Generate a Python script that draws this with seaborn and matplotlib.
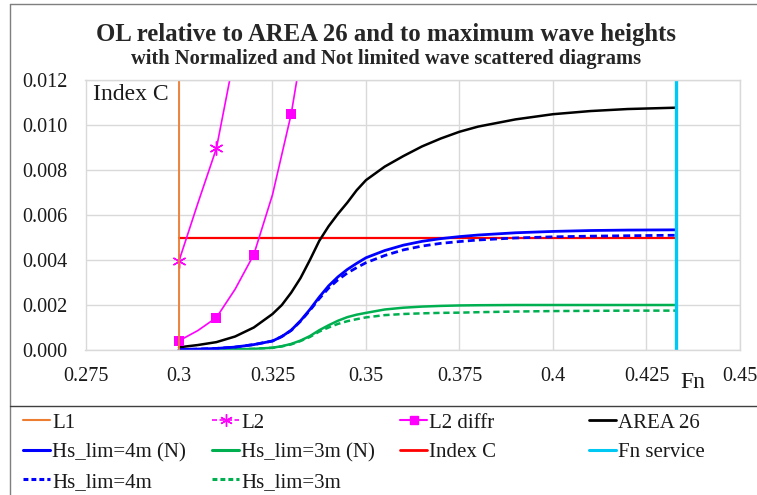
import numpy as np
import matplotlib
matplotlib.use("Agg")
import matplotlib.pyplot as plt
from matplotlib import ticker
from matplotlib.lines import Line2D
import seaborn as sns

# Fn grid used for the smooth curves
fn = [0.300, 0.305, 0.310, 0.315, 0.320, 0.325, 0.3275, 0.330, 0.3325, 0.335,
      0.3375, 0.340, 0.3425, 0.345, 0.3475, 0.350, 0.355, 0.360, 0.365, 0.370,
      0.375, 0.380, 0.390, 0.400, 0.410, 0.420, 0.433]

area26 = [0.00012, 0.00022, 0.00035, 0.00060, 0.00100, 0.00160, 0.00200, 0.00255,
          0.00320, 0.00400, 0.00485, 0.00550, 0.00605, 0.00655, 0.00710, 0.00755,
          0.00815, 0.00862, 0.00905, 0.00940, 0.00970, 0.00993, 0.01025, 0.01048,
          0.01062, 0.01071, 0.01077]
hs4_norm = [0.00002, 0.00004, 0.00007, 0.00013, 0.00024, 0.00040, 0.00060, 0.00088,
            0.00130, 0.00180, 0.00235, 0.00285, 0.00325, 0.00358, 0.00385, 0.00410,
            0.00442, 0.00466, 0.00483, 0.00495, 0.00504, 0.00511, 0.00521, 0.00527,
            0.00531, 0.00533, 0.00534]
hs4 = [0.00002, 0.00004, 0.00007, 0.00013, 0.00024, 0.00040, 0.00060, 0.00087,
       0.00128, 0.00176, 0.00228, 0.00275, 0.00312, 0.00342, 0.00366, 0.00388,
       0.00420, 0.00445, 0.00462, 0.00474, 0.00482, 0.00489, 0.00498, 0.00503,
       0.00506, 0.00508, 0.00510]
hs3_norm = [0.00001, 0.00001, 0.00002, 0.00003, 0.00005, 0.00010, 0.00017, 0.00027,
            0.00042, 0.00062, 0.00088, 0.00110, 0.00130, 0.00146, 0.00157, 0.00165,
            0.00180, 0.00188, 0.00193, 0.00196, 0.00198, 0.00199, 0.00200, 0.00200,
            0.00200, 0.00200, 0.00200]
hs3 = [0.00001, 0.00001, 0.00002, 0.00003, 0.00005, 0.00010, 0.00016, 0.00025,
       0.00040, 0.00058, 0.00082, 0.00100, 0.00116, 0.00128, 0.00137, 0.00145,
       0.00155, 0.00160, 0.00163, 0.00165, 0.00166, 0.00168, 0.00171, 0.00173,
       0.00174, 0.00175, 0.00175]

# L2 curves (markers on every 0.01 step)
fn_l2 = [0.300, 0.305, 0.310, 0.320]
l2 = [0.00396, 0.00650, 0.00896, 0.01750]
fn_l2d = [0.300, 0.305, 0.310, 0.315, 0.320, 0.325, 0.330, 0.340]
l2_diffr = [0.00041, 0.00086, 0.00144, 0.00270, 0.00424, 0.00690, 0.01049, 0.02050]

# vertical / horizontal reference lines
fn_l1 = [0.300, 0.300]
fn_service = [0.433, 0.433]
vert_y = [0.0, 0.012]
fn_index = [0.300, 0.433]
index_c = [0.005, 0.005]

x_ticks = [0.275, 0.3, 0.325, 0.35, 0.375, 0.4, 0.425, 0.45]
y_ticks = [0.000, 0.002, 0.004, 0.006, 0.008, 0.010, 0.012]

sns.set_theme(style="whitegrid")
plt.rcParams["font.family"] = ["Liberation Serif", "DejaVu Serif"]

fig = plt.figure(figsize=(7.57, 4.95), dpi=100)
ax = fig.add_axes([85.5 / 757, 1 - 350 / 495, (740 - 85.5) / 757, 270 / 495])

dash = (2.5, 1.5)
c_orange = "#ED7D31"
c_mag = "#FF00FF"
c_blue = "#0000FF"
c_green = "#00B050"
c_red = "#FF0000"
c_cyan = "#00C8F5"

raw = dict(estimator=None, sort=False, ax=ax)
sns.lineplot(x=fn_index, y=index_c, color=c_red, linewidth=1.6, **raw)
sns.lineplot(x=fn, y=area26, color="black", linewidth=1.8, **raw)
sns.lineplot(x=fn, y=hs3, color=c_green, linewidth=1.8, linestyle=(0, dash), **raw)
sns.lineplot(x=fn, y=hs3_norm, color=c_green, linewidth=1.8, **raw)
sns.lineplot(x=fn, y=hs4, color=c_blue, linewidth=2.0, linestyle=(0, dash), **raw)
sns.lineplot(x=fn, y=hs4_norm, color=c_blue, linewidth=2.0, **raw)
sns.lineplot(x=fn_l2, y=l2, color=c_mag, linewidth=1.2, marker=(6, 2, 0),
             markersize=10, markeredgewidth=1.0, markeredgecolor=c_mag,
             markevery=[0, 2], **raw)
sns.lineplot(x=fn_l2d, y=l2_diffr, color=c_mag, linewidth=1.2, marker="s",
             markersize=7, markeredgewidth=0, markevery=[0, 2, 4, 6], **raw)
sns.lineplot(x=fn_l1, y=vert_y, color=c_orange, linewidth=1.3, **raw)
sns.lineplot(x=fn_service, y=vert_y, color=c_cyan, linewidth=2.4, **raw)

ax.set_xlim(0.275, 0.45)
ax.set_ylim(0, 0.012)
ax.set_xticks(x_ticks)
ax.set_yticks(y_ticks)
ax.xaxis.set_major_formatter(ticker.FuncFormatter(lambda v, p: f"{v:g}"))
ax.yaxis.set_major_formatter(ticker.FuncFormatter(lambda v, p: f"{v:.3f}"))
ax.tick_params(axis="both", length=0, labelsize=14.5, colors="#1a1a1a")
ax.tick_params(axis="y", pad=13)
ax.tick_params(axis="x", pad=12)
ax.set_xlabel("")
ax.set_ylabel("")
ax.grid(True, color="#D9D9D9", linewidth=1.0)
for s in ax.spines.values():
    s.set_color("#D9D9D9")
    s.set_linewidth(1.0)
ax.set_facecolor("white")

ax.text(0.012, 0.985, "Index C", transform=ax.transAxes, ha="left", va="top",
        fontsize=17, color="#1a1a1a")
fig.text(693 / 757, 1 - 382 / 495, "Fn", ha="center", va="center", fontsize=17,
         color="#1a1a1a")

fig.text(0.51, 1 - 34 / 495, "OL relative to AREA 26 and to maximum wave heights",
         ha="center", va="center", fontsize=17.8, fontweight="bold")
fig.text(0.51, 1 - 59 / 495, "with Normalized and Not limited wave scattered diagrams",
         ha="center", va="center", fontsize=14.8, fontweight="bold")

# chart and legend frames
frame = "#7F7F7F"
fig.add_artist(Line2D([10 / 757, 10 / 757], [0, 1 - 4 / 495], color=frame, lw=1.0,
                      transform=fig.transFigure))
fig.add_artist(Line2D([10 / 757, 1], [1 - 4 / 495, 1 - 4 / 495], color=frame, lw=1.0,
                      transform=fig.transFigure))
fig.add_artist(Line2D([10 / 757, 1], [1 - 406 / 495, 1 - 406 / 495], color="#404040",
                      lw=1.0, transform=fig.transFigure))


# legend, laid out in 4 columns like the original
def h(color, lw=2.0, ls="-", marker=None, ms=7):
    return Line2D([], [], color=color, lw=lw, linestyle=ls, marker=marker,
                  markersize=ms, markeredgewidth=1.0)


short_dash = (0, (1.6, 1.0))
columns = [
    [(h(c_orange, 1.5), "L1"), (h(c_blue, 2.2), "Hs_lim=4m (N)"),
     (h(c_blue, 2.2, short_dash), "Hs_lim=4m")],
    [(h(c_mag, 1.2, (0, (3, 1.5)), (6, 2, 0), 9), "L2"),
     (h(c_green, 2.2), "Hs_lim=3m (N)"),
     (h(c_green, 2.2, short_dash), "Hs_lim=3m")],
    [(h(c_mag, 1.5, "-", "s", 6), "L2 diffr"), (h(c_red, 2.0), "Index C")],
    [(h("black", 2.0), "AREA 26"), (h(c_cyan, 2.2), "Fn service")],
]
col_x = [23, 212, 400, 589]
for xpx, col in zip(col_x, columns):
    leg = fig.legend([c[0] for c in col], [c[1] for c in col], loc="upper left",
                     bbox_to_anchor=(xpx / 757, 1 - 413 / 495), frameon=False,
                     fontsize=15, handlelength=1.3, handletextpad=0.1,
                     labelspacing=0.48, borderaxespad=0, borderpad=0)
    for t in leg.get_texts():
        t.set_color("#1a1a1a")

fig.savefig("out.png", dpi=100)
